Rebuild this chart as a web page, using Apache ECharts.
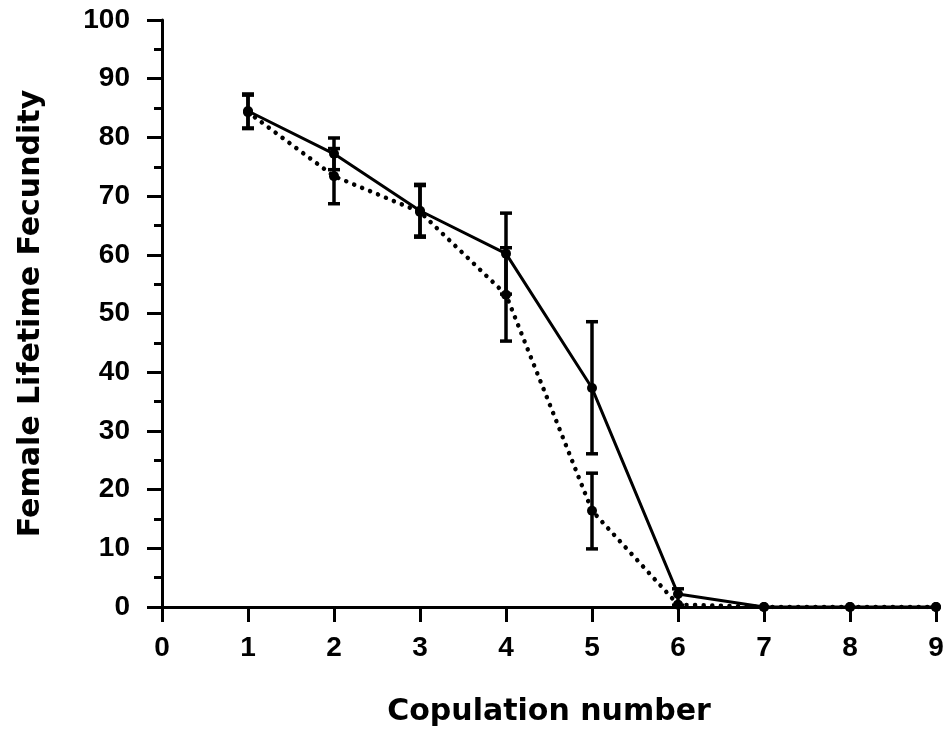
<!DOCTYPE html>
<html>
<head>
<meta charset="utf-8">
<script src="https://cdn.jsdelivr.net/npm/echarts@6/dist/echarts.min.js"></script>
<style>
  html, body { margin: 0; padding: 0; background: #fff; }
  #chart { width: 950px; height: 738px; }
</style>
</head>
<body>
<div id="chart"></div>
<script>
// copulation number on the x axis
var copulation = [1, 2, 3, 4, 5, 6, 7, 8, 9];

// solid line series: mean and error bar ends
var solidMean = [84.5, 77.2, 67.5, 60.2, 37.3, 2.2, 0, 0, 0];
var solidLow  = [81.5, 74.5, 63.0, 53.3, 26.1, 0.3, null, null, null];
var solidHigh = [87.4, 79.9, 72.0, 67.1, 48.6, 3.1, null, null, null];

// dotted line series
var dottedMean = [84.3, 73.4, 67.3, 53.2, 16.4, 0.4, 0, 0, 0];
var dottedLow  = [81.6, 68.7, 63.2, 45.3, 9.9, null, null, null, null];
var dottedHigh = [87.2, 78.1, 71.8, 61.2, 22.8, null, null, null, null];

var yTicks = [0, 10, 20, 30, 40, 50, 60, 70, 80, 90, 100];

function pairs (xs, ys) {
  return xs.map(function (x, i) { return [x, ys[i]] })
}
function bars (xs, lo, hi) {
  var out = []
  xs.forEach(function (x, i) {
    if (lo[i] != null && hi[i] != null) out.push([x, lo[i], hi[i]])
  })
  return out
}

// vertical error bar with caps
function renderErr (params, api) {
  var top = api.coord([api.value(0), api.value(2)])
  var bot = api.coord([api.value(0), api.value(1)])
  var w = 6
  var st = { stroke: '#000', lineWidth: 3.5 }
  return {
    type: 'group',
    children: [
      { type: 'line', shape: { x1: top[0], y1: top[1], x2: bot[0], y2: bot[1] }, style: st },
      { type: 'line', shape: { x1: top[0] - w, y1: top[1], x2: top[0] + w, y2: top[1] }, style: st },
      { type: 'line', shape: { x1: bot[0] - w, y1: bot[1], x2: bot[0] + w, y2: bot[1] }, style: st }
    ]
  }
}

var chart = echarts.init(document.getElementById('chart'), null, { renderer: 'canvas' })

var tickFont = {
  color: '#000',
  fontFamily: 'Liberation Sans',
  fontWeight: 'bold',
  fontSize: 28
}
var nameFont = {
  color: '#000',
  fontFamily: 'DejaVu Sans',
  fontWeight: 'bold',
  fontSize: 30
}

chart.setOption({
  animation: false,
  backgroundColor: '#fff',
  grid: { left: 162, right: 14, top: 20, bottom: 131 },
  xAxis: {
    type: 'value',
    min: 0,
    max: 9,
    interval: 1,
    name: 'Copulation number',
    nameLocation: 'middle',
    nameGap: 90,
    nameTextStyle: nameFont,
    axisLine: { onZero: false, lineStyle: { color: '#000', width: 3 } },
    axisTick: { inside: false, length: 15, lineStyle: { color: '#000', width: 3 } },
    axisLabel: Object.assign({ margin: 27 }, tickFont),
    splitLine: { show: false }
  },
  yAxis: {
    type: 'value',
    min: 0,
    max: 100,
    interval: 10,
    name: 'Female Lifetime Fecundity',
    nameLocation: 'middle',
    nameGap: 116,
    nameTextStyle: nameFont,
    axisLine: { show: true, lineStyle: { color: '#000', width: 3 } },
    axisTick: { show: true, inside: false, length: 15, lineStyle: { color: '#000', width: 3 } },
    minorTick: { show: true, splitNumber: 2, length: 8, lineStyle: { color: '#000', width: 3 } },
    axisLabel: Object.assign({
      margin: 32,
      formatter: function (v) { return yTicks.indexOf(v) >= 0 ? String(v) : '' }
    }, tickFont),
    splitLine: { show: false }
  },
  series: [
    {
      type: 'custom',
      renderItem: renderErr,
      data: bars(copulation, dottedLow, dottedHigh),
      z: 3
    },
    {
      type: 'custom',
      renderItem: renderErr,
      data: bars(copulation, solidLow, solidHigh),
      z: 3
    },
    {
      name: 'dotted',
      type: 'line',
      data: pairs(copulation, dottedMean),
      symbol: 'circle',
      symbolSize: 10,
      itemStyle: { color: '#000' },
      lineStyle: { color: '#000', width: 4.5, type: [0.1, 8.5], cap: 'round' },
      z: 4
    },
    {
      name: 'solid',
      type: 'line',
      data: pairs(copulation, solidMean),
      symbol: 'circle',
      symbolSize: 10,
      itemStyle: { color: '#000' },
      lineStyle: { color: '#000', width: 3 },
      z: 5
    }
  ]
})
</script>
</body>
</html>
